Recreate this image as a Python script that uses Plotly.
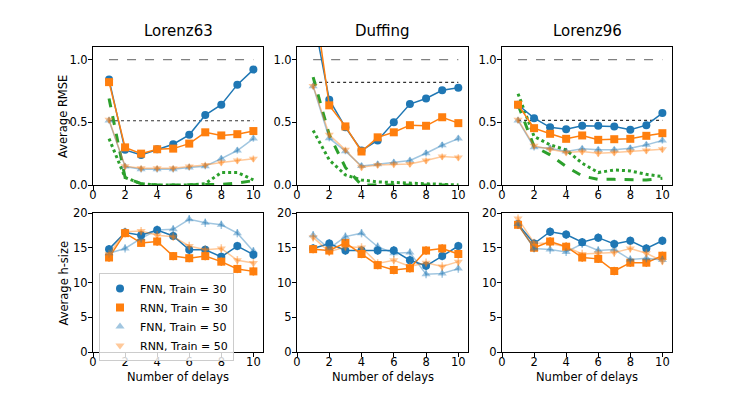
import plotly.graph_objects as go

delays = [1, 2, 3, 4, 5, 6, 7, 8, 9, 10]
systems = ["Lorenz63", "Duffing", "Lorenz96"]

# average RMSE per delay
rmse_fnn30 = {
    "Lorenz63": [0.84, 0.28, 0.24, 0.285, 0.325, 0.40, 0.557, 0.64, 0.80, 0.92],
    "Duffing": [1.35, 0.68, 0.46, 0.275, 0.355, 0.50, 0.645, 0.69, 0.755, 0.775],
    "Lorenz96": [0.64, 0.533, 0.46, 0.445, 0.472, 0.472, 0.467, 0.44, 0.477, 0.573],
}
rmse_rnn30 = {
    "Lorenz63": [0.82, 0.30, 0.25, 0.285, 0.29, 0.33, 0.42, 0.395, 0.405, 0.43],
    "Duffing": [1.55, 0.635, 0.467, 0.267, 0.38, 0.42, 0.477, 0.472, 0.54, 0.493],
    "Lorenz96": [0.64, 0.453, 0.408, 0.368, 0.395, 0.36, 0.365, 0.368, 0.392, 0.413],
}
rmse_fnn50 = {
    "Lorenz63": [0.515, 0.147, 0.125, 0.125, 0.125, 0.14, 0.15, 0.21, 0.275, 0.37],
    "Duffing": [0.787, 0.373, 0.27, 0.152, 0.165, 0.18, 0.195, 0.253, 0.317, 0.37],
    "Lorenz96": [0.515, 0.30, 0.293, 0.267, 0.288, 0.28, 0.28, 0.293, 0.32, 0.355],
}
rmse_rnn50 = {
    "Lorenz63": [0.52, 0.15, 0.133, 0.133, 0.133, 0.147, 0.16, 0.18, 0.195, 0.21],
    "Duffing": [0.79, 0.40, 0.28, 0.141, 0.16, 0.165, 0.168, 0.195, 0.227, 0.22],
    "Lorenz96": [0.52, 0.312, 0.285, 0.26, 0.267, 0.253, 0.26, 0.267, 0.275, 0.285],
}
# green reference curves
ref_dashed = {
    "Lorenz63": [0.69, 0.06, 0.01, 0.0, 0.0, 0.0, 0.0, 0.005, 0.015, 0.035],
    "Duffing": [0.86, 0.40, 0.14, 0.0, 0.0, 0.0, 0.0, 0.0, 0.0, 0.0],
    "Lorenz96": [0.64, 0.307, 0.24, 0.147, 0.072, 0.045, 0.045, 0.04, 0.04, 0.053],
}
ref_dotted = {
    "Lorenz63": [0.37, 0.06, 0.01, 0.0, 0.0, 0.0, 0.01, 0.10, 0.10, 0.04],
    "Duffing": [0.435, 0.20, 0.08, 0.04, 0.025, 0.02, 0.015, 0.01, 0.005, 0.0],
    "Lorenz96": [0.728, 0.387, 0.32, 0.28, 0.173, 0.099, 0.12, 0.112, 0.085, 0.067],
}
level_dashed = {"Lorenz63": 1.0, "Duffing": 1.0, "Lorenz96": 1.0}
level_dotted = {"Lorenz63": 0.512, "Duffing": 0.818, "Lorenz96": 0.515}

# average h-size per delay
h_fnn30 = {
    "Lorenz63": [14.8, 17.2, 16.8, 17.55, 16.7, 14.7, 14.7, 13.7, 15.25, 14.0],
    "Duffing": [14.9, 15.6, 14.6, 14.6, 14.6, 14.6, 13.2, 12.4, 13.8, 15.25],
    "Lorenz96": [18.4, 15.6, 17.3, 16.9, 15.8, 16.45, 15.55, 16.0, 14.9, 16.0],
}
h_rnn30 = {
    "Lorenz63": [13.6, 17.1, 15.7, 15.9, 13.8, 13.5, 13.8, 13.0, 11.95, 11.6],
    "Duffing": [14.8, 14.6, 15.7, 14.1, 12.5, 11.8, 12.05, 14.6, 14.9, 14.1],
    "Lorenz96": [18.3, 15.0, 15.9, 15.15, 13.6, 13.4, 11.65, 12.85, 12.85, 13.85],
}
h_fnn50 = {
    "Lorenz63": [14.2, 14.9, 16.35, 17.55, 17.65, 19.1, 18.6, 18.3, 17.1, 14.5],
    "Duffing": [16.8, 14.9, 16.6, 17.1, 15.15, 14.2, 14.3, 11.2, 11.3, 12.0],
    "Lorenz96": [18.4, 14.9, 14.75, 14.4, 15.55, 14.6, 14.75, 13.3, 13.5, 13.25],
}
h_rnn50 = {
    "Lorenz63": [14.1, 17.3, 17.4, 16.8, 16.6, 15.25, 14.7, 14.9, 13.2, 12.8],
    "Duffing": [16.5, 14.4, 15.15, 15.05, 12.75, 13.2, 12.3, 12.85, 12.3, 13.0],
    "Lorenz96": [19.2, 15.7, 15.6, 15.15, 14.1, 14.2, 14.3, 14.9, 14.2, 13.1],
}

W, H = 747, 395
cols_px = [(93, 263), (297, 468), (502, 672)]
top_px, bot_px = (47, 185), (213, 352)

BLUE = "#1f77b4"
ORANGE = "#ff7f0e"
GREEN = "#2ca02c"
LBLUE = "rgba(31,119,180,0.42)"
LORANGE = "rgba(255,127,14,0.42)"

series = [
    ("FNN, Train = 30", BLUE, "circle", 8),
    ("RNN, Train = 30", ORANGE, "square", 8),
    ("FNN, Train = 50", LBLUE, "triangle-up", 8),
    ("RNN, Train = 50", LORANGE, "triangle-down", 8),
]

fig = go.Figure()
layout = {}
annotations = []


def ydom(px):
    return [(H - px[1]) / H, (H - px[0]) / H]


def note(text, x, y, size=11.5, angle=0):
    return dict(text=text, x=x, y=y, xref="paper", yref="paper", xanchor="center",
                yanchor="middle", textangle=angle, showarrow=False,
                font=dict(size=size, color="black"))


for i, name in enumerate(systems):
    xd = [cols_px[i][0] / W, cols_px[i][1] / W]
    for row, (ypx, data, err) in enumerate([
        (top_px, [rmse_fnn30, rmse_rnn30, rmse_fnn50, rmse_rnn50], 0.025),
        (bot_px, [h_fnn30, h_rnn30, h_fnn50, h_rnn50], 0.6),
    ]):
        n = row * 3 + i + 1
        xa, ya = f"x{n}", f"y{n}"
        axis_common = dict(
            showline=True, linecolor="black", linewidth=1, mirror=True,
            ticks="outside", ticklen=4, tickcolor="black", showgrid=False,
            zeroline=False, automargin=False, tickfont=dict(size=11.5, color="black"),
        )
        layout[f"xaxis{n}"] = dict(domain=xd, anchor=ya, range=[0, 10.6],
                                   tickvals=[0, 2, 4, 6, 8, 10], ticklabelstandoff=-5,
                                   **axis_common)
        if row == 0:
            layout[f"yaxis{n}"] = dict(domain=ydom(ypx), anchor=xa, range=[0, 1.1],
                                       tickvals=[0, 0.5, 1.0], ticktext=["0.0", "0.5", "1.0"],
                                       ticklabelstandoff=-2, **axis_common)
            fig.add_trace(go.Scatter(x=[delays[0], delays[-1]], y=[level_dashed[name]] * 2,
                                     mode="lines", line=dict(color="#808080", dash="dash", width=1.3),
                                     xaxis=xa, yaxis=ya, showlegend=False))
            fig.add_trace(go.Scatter(x=[delays[0], delays[-1]], y=[level_dotted[name]] * 2,
                                     mode="lines", line=dict(color="#333333", dash="dot", width=1.2),
                                     xaxis=xa, yaxis=ya, showlegend=False))
            fig.add_trace(go.Scatter(x=delays, y=ref_dashed[name], mode="lines",
                                     line=dict(color=GREEN, dash="dash", width=3),
                                     xaxis=xa, yaxis=ya, showlegend=False))
            fig.add_trace(go.Scatter(x=delays, y=ref_dotted[name], mode="lines",
                                     line=dict(color=GREEN, dash="dot", width=3),
                                     xaxis=xa, yaxis=ya, showlegend=False))
        else:
            layout[f"yaxis{n}"] = dict(domain=ydom(ypx), anchor=xa, range=[0, 20],
                                       tickvals=[0, 5, 10, 15, 20], ticklabelstandoff=-2,
                                       **axis_common)
        for (label, color, symbol, size), d in zip(series, data):
            fig.add_trace(go.Scatter(
                x=delays, y=d[name], mode="lines+markers",
                line=dict(color=color, width=1.5),
                marker=dict(color=color, symbol=symbol, size=size),
                error_y=dict(type="constant", value=err, color=color, thickness=1.5, width=0),
                xaxis=xa, yaxis=ya, showlegend=False,
            ))
    annotations.append(note(name, sum(xd) / 2, (H - 31) / H, size=15))
    annotations.append(note("Number of delays", sum(xd) / 2, (H - 377) / H))

# legend entries: markers only
for label, color, symbol, size in series:
    fig.add_trace(go.Scatter(x=[None], y=[None], mode="markers", name=label,
                             marker=dict(color=color, symbol=symbol, size=size),
                             xaxis="x4", yaxis="y4"))

annotations.append(note("Average RMSE", 63 / W, sum(ydom(top_px)) / 2, angle=-90))
annotations.append(note("Average h-size", 63 / W, sum(ydom(bot_px)) / 2, angle=-90))

fig.update_layout(
    width=W, height=H,
    margin=dict(l=0, r=0, t=0, b=0),
    paper_bgcolor="white", plot_bgcolor="white",
    font=dict(family="DejaVu Sans", size=12, color="black"),
    annotations=annotations,
    legend=dict(x=99 / W, y=(H - 273) / H, xanchor="left", yanchor="top",
                bordercolor="#cccccc", borderwidth=1, bgcolor="rgba(255,255,255,0.8)",
                font=dict(size=11), tracegroupgap=0, itemwidth=30),
    **layout,
)

fig.write_html("out.html", config={"displayModeBar": False},
               post_script="document.body.style.margin='0';document.body.style.overflow='hidden';")
